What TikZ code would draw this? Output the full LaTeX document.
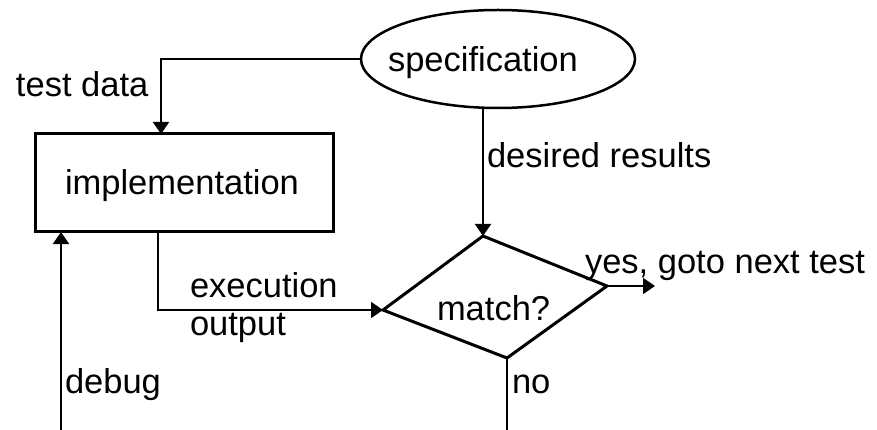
\documentclass[tikz,border=0pt]{standalone}
\usepackage{fontspec}
\setmainfont{Liberation Sans}
\usetikzlibrary{shapes.geometric,arrows.meta,calc}
\begin{document}
\begin{tikzpicture}[x=1pt,y=-1pt,
  every node/.style={font=\fontsize{34.5}{38}\selectfont, inner sep=0pt, outer sep=0pt},
  lbl/.style={anchor=base west},
  conn/.style={line width=2pt},
  arr/.style={conn, -{Triangle[width=16pt,length=12pt]}},
  shapeline/.style={line width=3pt},
]
\useasboundingbox (0,0) rectangle (877,430);
% shapes
\node[draw, ellipse, line width=2.5pt, minimum width=274pt, minimum height=98pt] (spec) at (498,59) {};
\node[lbl] (spectext) at (388,72) {specification};
\node[draw, shapeline, rectangle, minimum width=298pt, minimum height=98pt] (impl) at (184,183) {};
\node[lbl] (impltext) at (65,195) {implementation};
\coordinate (dT) at (483,236);
\coordinate (dR) at (607,286);
\coordinate (dB) at (507,358);
\coordinate (dL) at (383,310);
\draw[shapeline, line join=miter] (dT) -- (dR) -- (dB) -- (dL) -- cycle;
\node[lbl] (match) at (437,320) {match?};
% free ends
\coordinate (yesEnd) at (655,286);
\coordinate (noEnd) at (507,430);
\coordinate (debugStart) at (61,430);
% connectors
\draw[arr] (spec.west) -| ([xshift=-23pt]impl.north);
\draw[arr] (dT |- spec.south) -- (dT);
\draw[arr] ([xshift=-26pt]impl.south) |- (dL);
\draw[arr] (dR) -- (yesEnd);
\draw[conn] (dB) -- (noEnd);
\draw[arr] (debugStart) -- (debugStart |- impl.south);
% labels
\node[lbl] (ltest) at (16,97) {test data};
\node[lbl] (ldes) at (487,168) {desired results};
\node[lbl] (lyes) at (585,273) {yes, goto next test};
\node[lbl] (lexe) at (190,297) {execution};
\node[lbl] (lout) at (190,335) {output};
\node[lbl] (ldbg) at (65,393) {debug};
\node[lbl] (lno) at (512,393) {no};
\end{tikzpicture}
\end{document}
